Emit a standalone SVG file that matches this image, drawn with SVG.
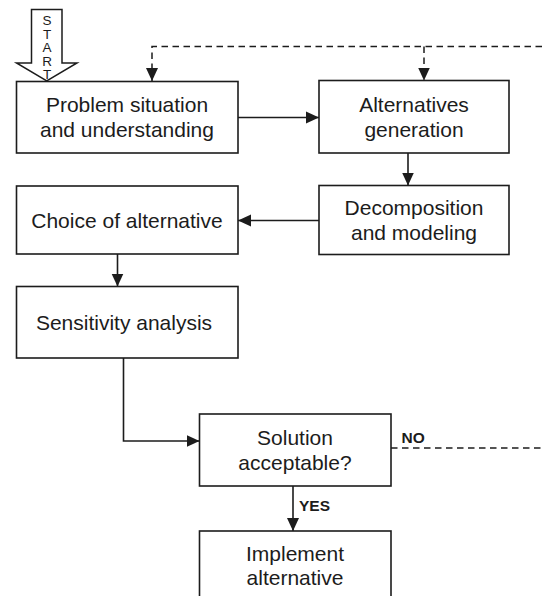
<svg xmlns="http://www.w3.org/2000/svg" width="542" height="596" viewBox="0 0 542 596">
  <style>
    .box { fill: #ffffff; stroke: #1c1c1c; stroke-width: 1.6; }
    .lbl { font-family: "Liberation Sans", Arial, sans-serif; font-size: 21px; fill: #1c1c1c; text-anchor: middle; }
    .tag { font-family: "Liberation Sans", Arial, sans-serif; font-size: 15.5px; font-weight: bold; fill: #1c1c1c; }
    .start { font-family: "Liberation Sans", Arial, sans-serif; font-size: 13.5px; fill: #1c1c1c; writing-mode: vertical-rl; text-orientation: upright; letter-spacing: -1.5px; }
    .flow { fill: none; stroke: #1c1c1c; stroke-width: 1.6; }
    .loop { fill: none; stroke: #1c1c1c; stroke-width: 1.5; stroke-dasharray: 6.5 4.5; }
  </style>
  <defs>
    <marker id="head" markerUnits="userSpaceOnUse" markerWidth="14" markerHeight="13" refX="13" refY="6.5" orient="auto">
      <path d="M0,0.5 L13,6.5 L0,12.5 z" fill="#1c1c1c"/>
    </marker>
  </defs>
  <rect width="542" height="596" fill="#ffffff"/>

  <!-- start arrow -->
  <g id="start">
    <path d="M31.5,9.5 H62 V63 H77 L46.75,81 L16.5,63 H31.5 Z" fill="#ffffff" stroke="#1c1c1c" stroke-width="1.5" stroke-linejoin="miter"/>
    <text class="start" x="47" y="13">START</text>
  </g>

  <!-- connectors -->
  <g id="connectors">
    <path class="flow" d="M238,117.5 H319" marker-end="url(#head)"/>
    <path class="flow" d="M408,153 V185.5" marker-end="url(#head)"/>
    <path class="flow" d="M319,220.5 H238" marker-end="url(#head)"/>
    <path class="flow" d="M117.5,254 V286.5" marker-end="url(#head)"/>
    <path class="flow" d="M123.5,358 V441 H199.5" marker-end="url(#head)"/>
    <path class="flow" d="M293,486 V531" marker-end="url(#head)"/>
    <path class="loop" d="M542,46.5 H152 V81" marker-end="url(#head)"/>
    <path class="loop" d="M424,46.5 V80.5" marker-end="url(#head)"/>
    <path class="loop" d="M391,448 H542"/>
    <text class="tag" x="401.5" y="443">NO</text>
    <text class="tag" x="299" y="511">YES</text>
  </g>

  <g id="problem">
    <rect class="box" x="16.5" y="81.5" width="221.5" height="71.5"/>
    <text class="lbl" x="127" y="111.5">Problem situation</text>
    <text class="lbl" x="127" y="136.5">and understanding</text>
  </g>

  <g id="alternatives">
    <rect class="box" x="319" y="80.5" width="190" height="72.5"/>
    <text class="lbl" x="414" y="111.5">Alternatives</text>
    <text class="lbl" x="414" y="136.5">generation</text>
  </g>

  <g id="decomposition">
    <rect class="box" x="319" y="185.5" width="190" height="69"/>
    <text class="lbl" x="414" y="214.5">Decomposition</text>
    <text class="lbl" x="414" y="239.5">and modeling</text>
  </g>

  <g id="choice">
    <rect class="box" x="16.5" y="186" width="221.5" height="68"/>
    <text class="lbl" x="127" y="227.5">Choice of alternative</text>
  </g>

  <g id="sensitivity">
    <rect class="box" x="16.5" y="286.5" width="221.5" height="71.5"/>
    <text class="lbl" x="124" y="330">Sensitivity analysis</text>
  </g>

  <g id="solution">
    <rect class="box" x="199.5" y="414" width="191.5" height="72"/>
    <text class="lbl" x="295" y="444.5">Solution</text>
    <text class="lbl" x="295" y="469.5">acceptable?</text>
  </g>

  <g id="implement">
    <rect class="box" x="199.5" y="531" width="191.5" height="72"/>
    <text class="lbl" x="295" y="560.5">Implement</text>
    <text class="lbl" x="295" y="585">alternative</text>
  </g>
</svg>
